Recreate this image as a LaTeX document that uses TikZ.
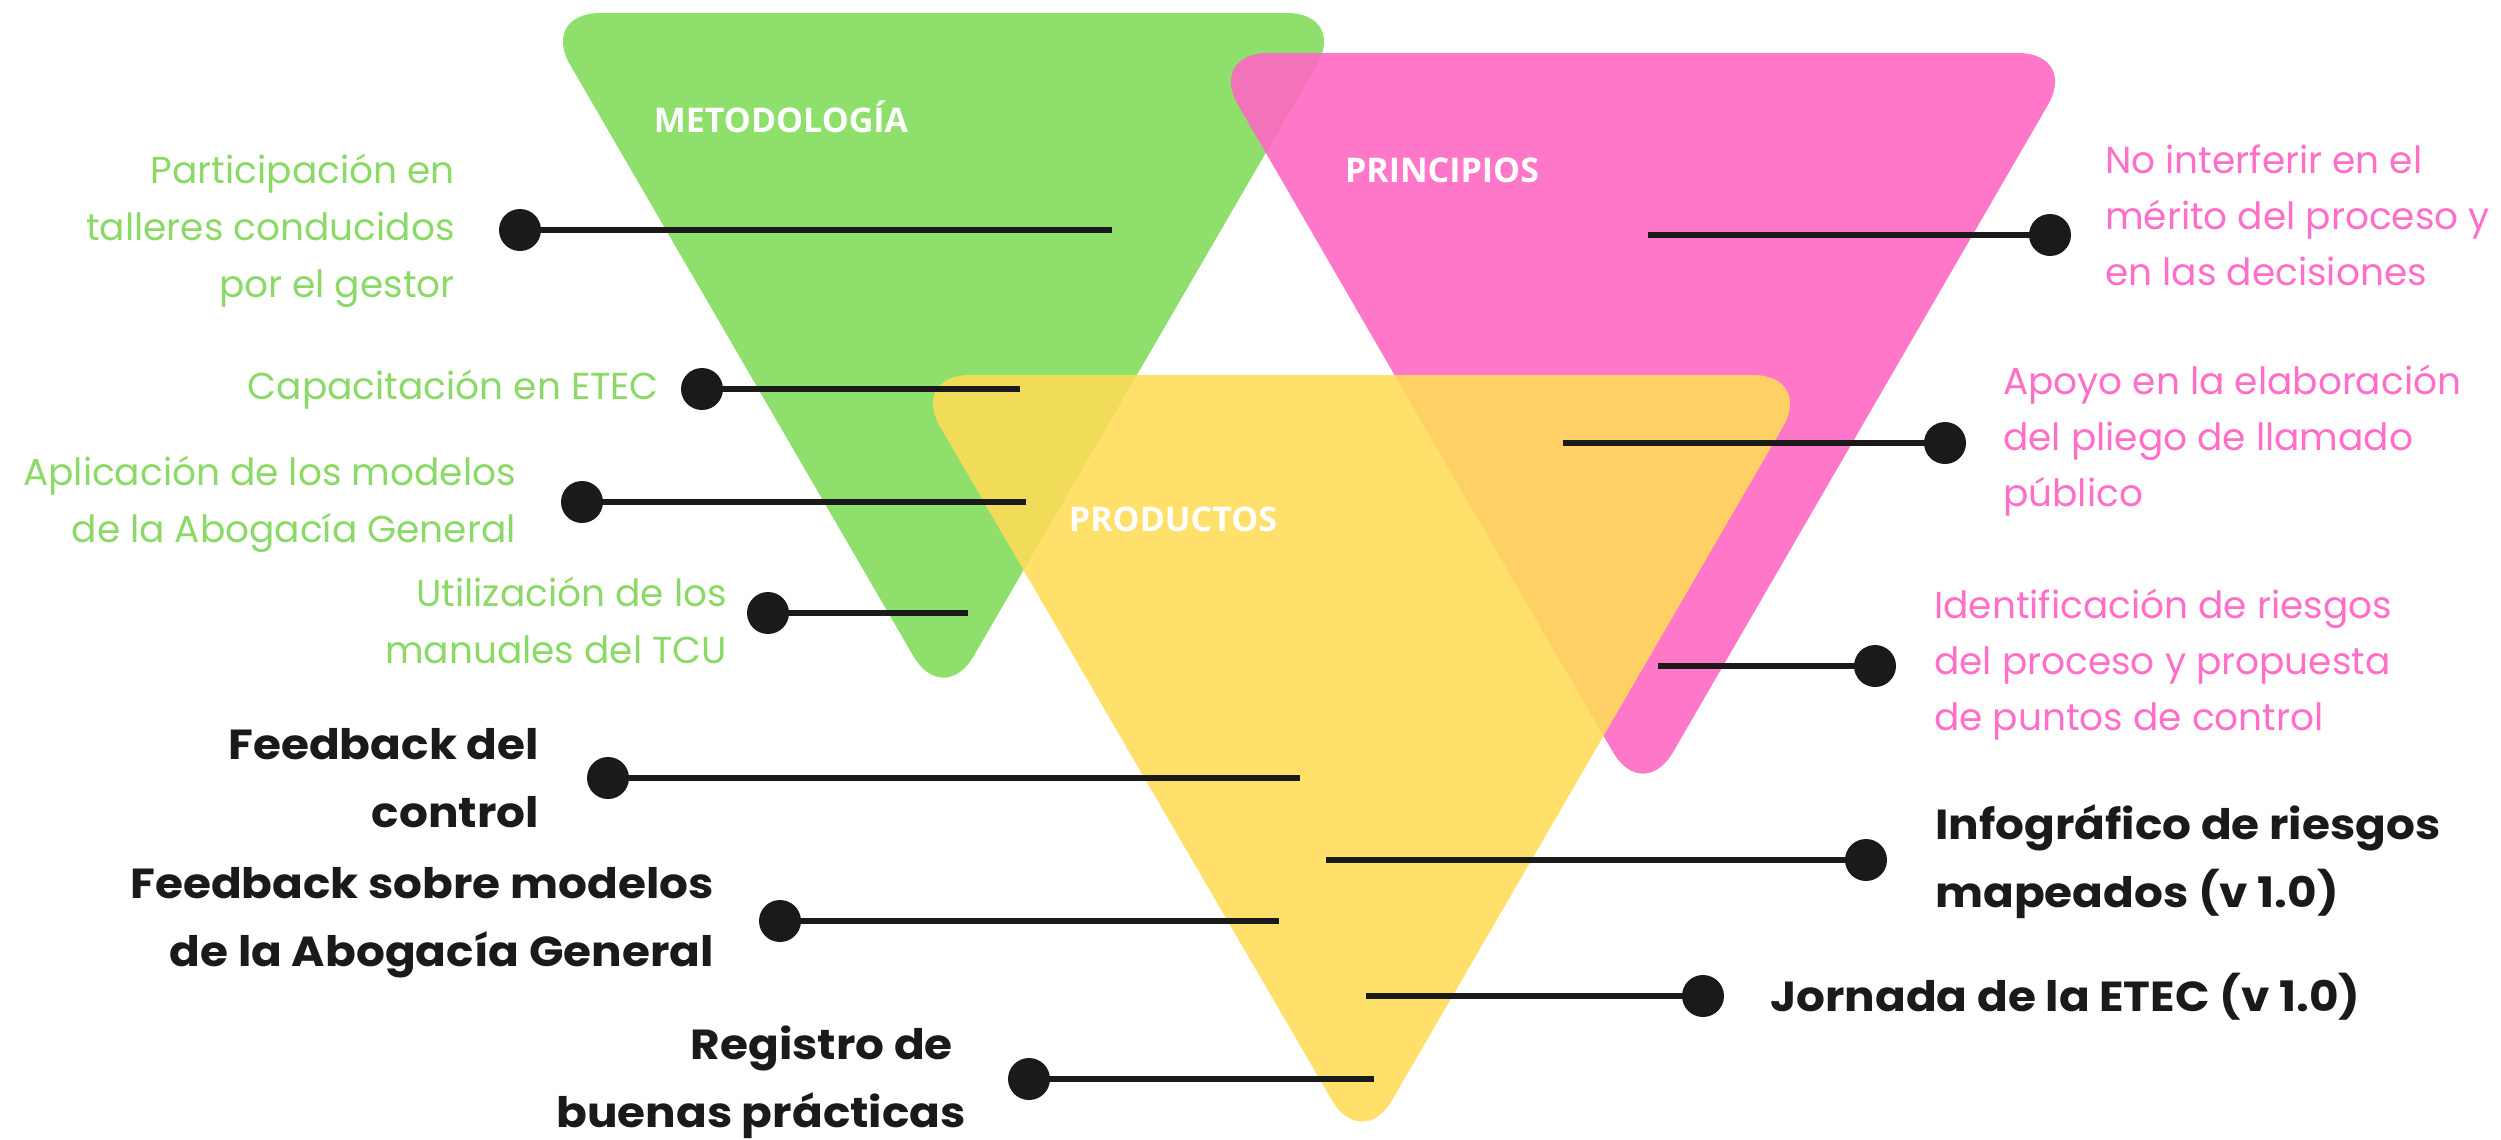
\documentclass[tikz,border=0pt]{standalone}
\usepackage{fontspec}
\setmainfont{Poppins}
\newfontfamily\widebold{Poppins}[FakeStretch=1.08]
\newfontfamily\titlefont{Open Sans}
\definecolor{greenfill}{RGB}{142,223,108}
\definecolor{pinkfill}{RGB}{255,104,195}
\definecolor{yellowfill}{RGB}{255,220,87}
\definecolor{greentext}{RGB}{139,217,102}
\definecolor{pinktext}{RGB}{255,110,199}
\definecolor{ink}{RGB}{26,26,26}
\begin{document}
\begin{tikzpicture}[x=1bp,y=-1bp,
  tri/.style={rounded corners=60bp},
  dot/.style={circle, fill=ink, minimum size=42bp, inner sep=0pt},
  conn/.style={draw=ink, line width=6bp},
  glabel/.style={text=greentext, font=\fontsize{37.5bp}{57bp}\selectfont, inner sep=0pt, anchor=east, align=right},
  plabel/.style={text=pinktext, font=\fontsize{37.5bp}{56bp}\selectfont, inner sep=0pt, anchor=west, align=left},
  bllabel/.style={text=ink, font=\widebold\bfseries\fontsize{42bp}{68bp}\selectfont, inner sep=0pt, anchor=east, align=right},
  brlabel/.style={text=ink, font=\widebold\bfseries\fontsize{42bp}{68bp}\selectfont, inner sep=0pt, anchor=west, align=left},
  title/.style={text=white, font=\titlefont\bfseries\fontsize{34bp}{40bp}\selectfont, inner sep=0pt}
]
\useasboundingbox (0,0) rectangle (2501,1139);

% triangles
\fill[greenfill, tri] (943.5,13) -- (1347,13) -- (943.5,708) -- (540,13) -- cycle;
\fill[pinkfill, fill opacity=0.9, tri] (1643,53) -- (2078,53) -- (1643,804) -- (1208,53) -- cycle;
\fill[yellowfill, fill opacity=0.88, tri] (1362,375) -- (1813,375) -- (1362,1152) -- (910,375) -- cycle;

% titles
\node[title] (tmet) at (781,117) {METODOLOGÍA};
\node[title] (tpri) at (1442,170) {PRINCIPIOS};
\node[title] (tpro) at (1173,519) {PRODUCTOS};

% green connectors
\node[dot] (d1) at (520,230) {};  \coordinate (e1) at (1112,230);
\node[dot] (d2) at (702,389) {};  \coordinate (e2) at (1020,389);
\node[dot] (d3) at (582,502) {};  \coordinate (e3) at (1026,502);
\node[dot] (d4) at (768,613) {};  \coordinate (e4) at (968,613);
% pink connectors
\node[dot] (d5) at (2050,235) {}; \coordinate (e5) at (1648,235);
\node[dot] (d6) at (1945,443) {}; \coordinate (e6) at (1563,443);
\node[dot] (d7) at (1875,666) {}; \coordinate (e7) at (1658,666);
% yellow connectors
\node[dot] (d8) at (608,778) {};  \coordinate (e8) at (1300,778);
\node[dot] (d9) at (780,921) {};  \coordinate (e9) at (1279,921);
\node[dot] (d10) at (1029,1079) {}; \coordinate (e10) at (1374,1079);
\node[dot] (d11) at (1866,860) {}; \coordinate (e11) at (1326,860);
\node[dot] (d12) at (1703,996) {}; \coordinate (e12) at (1366,996);

\foreach \i in {1,...,12} { \draw[conn] (d\i.center) -- (e\i); }

% labels
\node[glabel] (l1) at (455,231) {Participación en\\talleres conducidos\\por el gestor};
\node[glabel] (l2) at (659,390) {Capacitación en ETEC};
\node[glabel] (l3) at (516,504) {Aplicación de los modelos\\de la Abogacía General};
\node[glabel] (l4) at (727,620) {Utilización de los\\manuales del TCU};

\node[plabel] (l5) at (2105,215) {No interferir en el\\mérito del proceso y\\en las decisiones};
\node[plabel] (l6) at (2003,441) {Apoyo en la elaboración\\del pliego de llamado\\público};
\node[plabel] (l7) at (1934,665) {Identificación de riesgos\\del proceso y propuesta\\de puntos de control};

\node[bllabel] (l8) at (539,778) {Feedback del\\control};
\node[bllabel] (l9) at (714,923) {Feedback sobre modelos\\de la Abogacía General};
\node[bllabel] (l10) at (966,1082) {Registro de\hspace*{13bp}\\buenas prácticas};
\node[brlabel] (l11) at (1935,862) {Infográfico de riesgos\\mapeados (v 1.0)};
\node[brlabel] (l12) at (1770,997) {Jornada de la ETEC (v 1.0)};
\end{tikzpicture}
\end{document}
